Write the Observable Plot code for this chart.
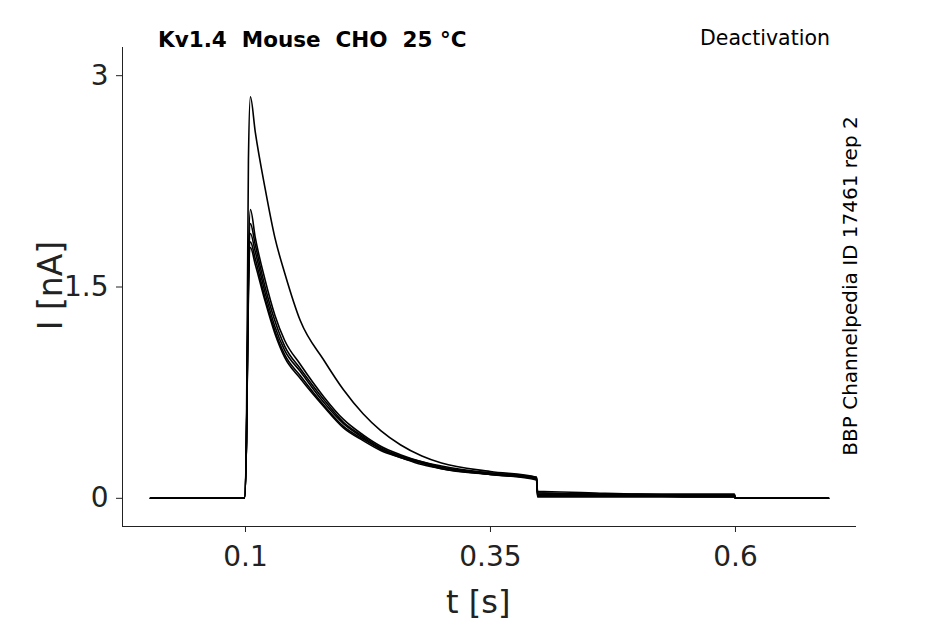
<!DOCTYPE html>
<html><head><meta charset="utf-8">
<script src="https://cdn.jsdelivr.net/npm/d3@7"></script>
<script src="https://cdn.jsdelivr.net/npm/@observablehq/plot@0.6"></script>
<style>
body{margin:0;background:#fff;font-family:"DejaVu Sans",sans-serif}
#wrap{position:relative;width:945px;height:624px}
.t{position:absolute;white-space:nowrap;color:#000}
</style></head><body>
<div id="wrap"></div>
<script>
const xTicks=[0.1,0.35,0.6];
const yTicks=[0,1.5,3];
const times=[0.003,0.099,0.101,0.103,0.105,0.11,0.12,0.13,0.14,0.156,0.18,0.2,0.22,0.238,0.258,0.28,0.3,0.35,0.397,0.398,0.45,0.5,0.55,0.599,0.6,0.65,0.695];
const traceBig=[0,0,0.5,2.4,2.85,2.6,2.2,1.85,1.6,1.26,0.98,0.77,0.6,0.48,0.38,0.3,0.25,0.19,0.15,0.04,0.03,0.02,0.02,0.02,0,0,0];
const traceA=[0,0,0.4,1.7,2.05,1.85,1.55,1.3,1.12,0.95,0.72,0.56,0.45,0.37,0.31,0.26,0.23,0.18,0.15,0.05,0.04,0.03,0.03,0.03,0,0,0];
const traceB=[0,0,0.4,1.6,1.95,1.8,1.5,1.26,1.08,0.92,0.7,0.54,0.44,0.36,0.3,0.26,0.22,0.18,0.14,0.04,0.03,0.03,0.02,0.02,0,0,0];
const traceC=[0,0,0.4,1.55,1.88,1.75,1.46,1.22,1.05,0.9,0.68,0.53,0.43,0.35,0.3,0.25,0.22,0.17,0.14,0.03,0.03,0.02,0.02,0.02,0,0,0];
const traceD=[0,0,0.4,1.5,1.82,1.7,1.42,1.19,1.02,0.87,0.66,0.51,0.42,0.35,0.29,0.25,0.21,0.17,0.14,0.02,0.02,0.02,0.01,0.01,0,0,0];
const traceE=[0,0,0.4,1.45,1.78,1.66,1.4,1.17,1.0,0.85,0.65,0.5,0.41,0.34,0.29,0.24,0.21,0.17,0.13,0.01,0.01,0.01,0.01,0.01,0,0,0];
const traces={big:traceBig,a:traceA,b:traceB,c:traceC,d:traceD,e:traceE};
const rows=[];
for(const [k,v] of Object.entries(traces)) v.forEach((y,i)=>rows.push({k,t:times[i],y}));
const plot=Plot.plot({
  width:945,height:624,marginLeft:122,marginRight:89,marginTop:47,marginBottom:98,
  style:{fontFamily:"DejaVu Sans",fontSize:"28px",color:"#222"},
  x:{domain:[-0.0255,0.7235],ticks:xTicks,tickFormat:d=>String(d),label:null,tickSize:6,tickPadding:14},
  y:{domain:[-0.2,3.2],ticks:yTicks,tickFormat:d=>String(d),label:null,tickSize:6,tickPadding:8},
  marks:[
    Plot.ruleX([-0.0255],{stroke:"#222"}),
    Plot.ruleY([-0.2],{stroke:"#222"}),
    Plot.line(rows,{x:"t",y:"y",z:"k",stroke:"#000",strokeWidth:1.6,curve:"monotone-x"})
  ]
});
const w=document.getElementById("wrap");
w.appendChild(plot);
const add=(html,css)=>{const d=document.createElement("div");d.className="t";d.innerHTML=html;d.style.cssText+=css;w.appendChild(d);};
add("Kv1.4&nbsp; Mouse&nbsp; CHO&nbsp; 25 °C","left:158px;top:27px;font-size:21.5px;font-weight:bold;");
add("Deactivation","left:700px;top:26px;font-size:20.5px;");
add("I [nA]","left:-10px;top:266px;font-size:33px;color:#222;transform:rotate(-90deg);transform-origin:center;width:120px;text-align:center;");
add("t [s]","left:446px;top:583px;font-size:32px;color:#222;");
add("BBP Channelpedia ID 17461 rep 2","left:650px;top:274px;font-size:20px;transform:rotate(-90deg);width:400px;text-align:center;");
</script></body></html>
